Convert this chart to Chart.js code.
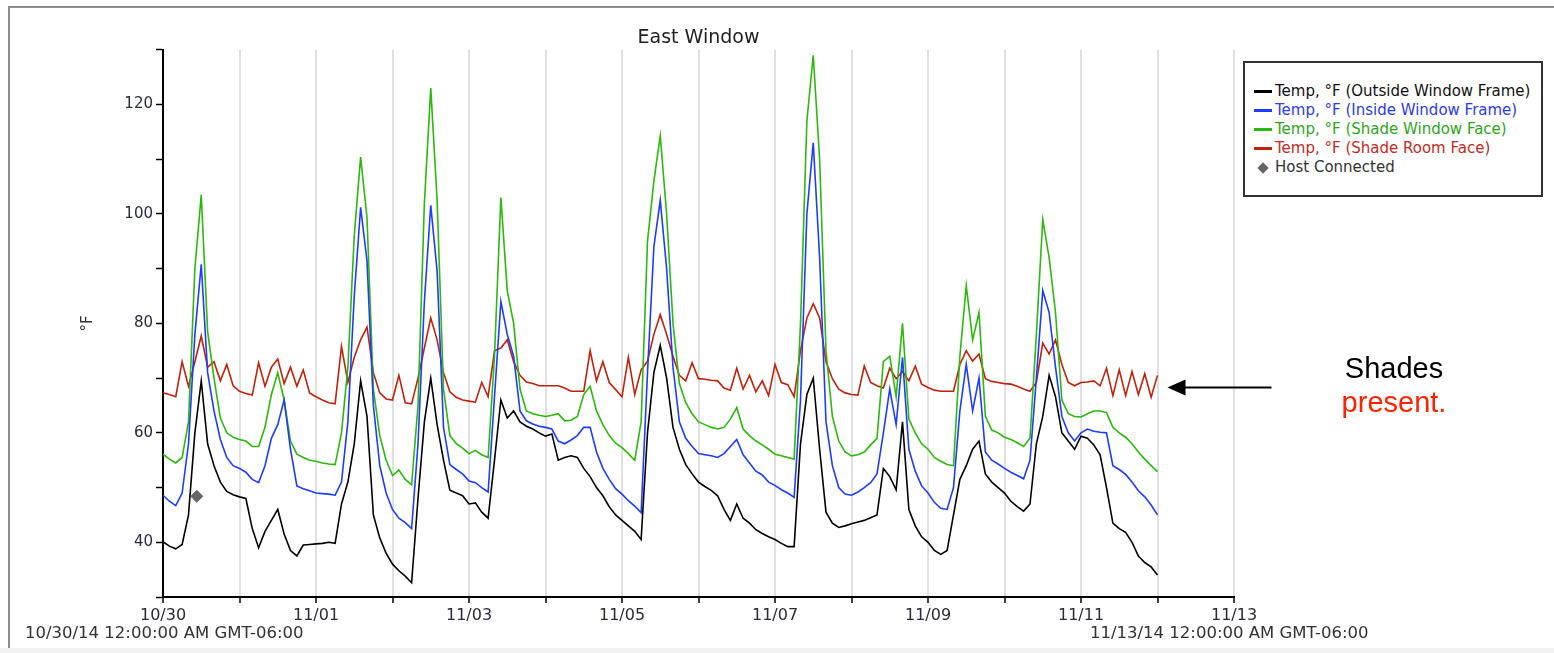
<!DOCTYPE html>
<html>
<head>
<meta charset="utf-8">
<title>East Window</title>
<script src="https://cdn.jsdelivr.net/npm/chart.js@4.4.1/dist/chart.umd.min.js"></script>
<style>
  html, body { margin: 0; padding: 0; background: #fff; }
  #wrap { position: relative; width: 1554px; height: 653px; overflow: hidden; font-family: "DejaVu Sans", sans-serif; }
  #frame { position: absolute; left: 8px; top: 6px; width: 1546px; height: 642px; border-top: 2px solid #8c8c8c; border-left: 2px solid #8c8c8c; box-sizing: border-box; }
  #strip { position: absolute; left: 0; top: 648px; width: 1554px; height: 5px; background: #f2f2f2; }
  canvas { position: absolute; left: 0; top: 0; }
  #legend { position: absolute; left: 1243px; top: 61px; width: 300px; height: 136px; border: 2px solid #333; box-sizing: border-box; padding: 19px 0 0 9px; font-size: 15px; line-height: 19px; background: #fff; }
  #legend .item { white-space: nowrap; height: 19px; }
  #legend .sw { display: inline-block; width: 18px; height: 3px; vertical-align: middle; margin-right: 3px; }
  #legend .dia { display: inline-block; width: 8px; height: 8px; transform: rotate(45deg); margin: 0 8px 0 5px; vertical-align: middle; }
  .stamp { position: absolute; font-size: 16.5px; color: #333; line-height: 20px; white-space: nowrap; }
  .note { position: absolute; left: 1294px; width: 200px; text-align: center; font-family: "Liberation Sans", Arial, sans-serif; font-size: 29px; line-height: 29px; }
</style>
</head>
<body>
<div id="wrap">
  <div id="frame"></div>
  <div id="strip"></div>
  <canvas id="chart" width="1554" height="653"></canvas>
  <div id="legend"></div>
  <div class="stamp" style="left:25px; top:623px;">10/30/14 12:00:00 AM GMT-06:00</div>
  <div class="stamp" style="left:1090px; top:623px;">11/13/14 12:00:00 AM GMT-06:00</div>
  <div class="note" style="top:354px; color:#000;">Shades</div>
  <div class="note" style="top:388px; color:#ff2200;">present.</div>
</div>
<script>
// day labels for the x axis (one tick per day, label every other day)
const dayLabels = ['10/30', '10/31', '11/01', '11/02', '11/03', '11/04', '11/05', '11/06',
    '11/07', '11/08', '11/09', '11/10', '11/11', '11/12', '11/13'];

// readings every 2 hours from 10/30 00:00 to 11/12 00:00 (one row per day)
const outsideFrame = [
    40.1, 39.3, 38.8, 39.6, 45, 60, 69.5, 58, 54, 51, 49.3, 48.7,
    48.3, 48, 42.5, 39, 42, 44, 46, 41.5, 38.5, 37.5, 39.5, 39.6,
    39.7, 39.8, 40, 39.8, 47, 51, 58, 69.5, 63, 45, 40.8, 38,
    36, 34.8, 33.8, 32.6, 48, 62, 70, 61.5, 55, 49.5, 49, 48.5,
    47, 47.2, 45.5, 44.4, 55, 66, 62.7, 64, 62, 61.2, 60.7, 60,
    59.4, 59.8, 55, 55.5, 55.8, 55.5, 53.5, 52, 50, 48.5, 46.5, 45,
    44, 43, 42, 40.5, 60, 71, 76, 70, 61, 57, 54.2, 52.5,
    51, 50.2, 49.5, 48.5, 46, 44, 47, 44.4, 43.5, 42.3, 41.6, 41,
    40.5, 39.8, 39.2, 39.2, 58, 67, 70, 57, 45.5, 43.5, 42.7, 43,
    43.4, 43.7, 44, 44.5, 45, 53.5, 52, 49.6, 62, 46, 43, 41,
    40, 38.5, 37.8, 38.5, 45, 51.5, 54, 57, 58.5, 52.5, 51, 50,
    49, 47.5, 46.5, 45.7, 47, 58, 63, 70.5, 66.6, 60, 58.5, 57,
    59.4, 59, 57.8, 56, 50, 43.5, 42.5, 41.8, 40, 37.5, 36.3, 35.5,
    34
];
const insideFrame = [
    48.6, 47.5, 46.7, 49, 58, 78, 90.8, 71, 64, 58.8, 55.5, 54,
    53.5, 52.8, 51.5, 50.9, 54, 59, 61.5, 66, 57, 50.3, 49.8, 49.4,
    49, 48.9, 48.8, 48.6, 51, 62, 85, 101.2, 91.4, 65, 54, 49,
    46, 44.4, 43.6, 42.5, 58, 84, 101.6, 89.5, 61, 54.2, 53.3, 52.5,
    51.2, 50.9, 50, 49.2, 66.6, 84, 78, 74, 64, 62.2, 61.6, 61.2,
    61, 60.7, 58.5, 58, 58.7, 59.5, 61, 61, 56.5, 53.5, 51.5, 49.8,
    48.8, 47.6, 46.6, 45.4, 71, 94, 102.5, 90, 72, 62, 59, 57.5,
    56.2, 56, 55.8, 55.5, 56.2, 57.5, 58.8, 56, 54.5, 53, 52.3, 51,
    50.4, 49.6, 49, 48.2, 66, 100, 113, 92, 62, 54, 50, 48.8,
    48.6, 49.2, 50, 50.9, 52.5, 60, 68, 61.5, 73.8, 57, 53, 50.3,
    49, 47.3, 46.2, 46, 50, 64, 72.5, 64, 70, 56.5, 55, 54.3,
    53.5, 52.8, 52.2, 51.6, 55, 70, 86, 82, 72, 63, 60, 58.5,
    60, 60.7, 60.3, 60.1, 60, 54, 53.3, 52.4, 51, 49.4, 48.3, 46.8,
    45
];
const shadeWindow = [
    56.1, 55.2, 54.5, 55.5, 62, 90, 103.5, 78.5, 70, 62.7, 60, 59.2,
    58.8, 58.5, 57.5, 57.5, 61, 67, 71, 66, 58.5, 56.1, 55.5, 55,
    54.8, 54.5, 54.3, 54.2, 60, 72, 96, 110.4, 99.3, 68, 59.5, 55,
    52.2, 53.2, 51.5, 50.5, 65, 102, 123, 102.5, 68, 59.5, 58, 57.2,
    56.2, 56.8, 56, 55.5, 74, 103, 86, 80, 68, 64, 63.5, 63.2,
    63, 63.2, 63.5, 62.2, 62.3, 63, 67, 68.5, 64, 61.5, 59.5, 58.1,
    57.3, 56.2, 55, 62, 95, 106, 114.3, 100, 80, 69, 65.5, 63.5,
    62, 61.5, 61, 60.7, 61, 62.5, 64.6, 60.7, 59.5, 58.5, 57.8, 57,
    56.1, 55.8, 55.5, 55.2, 80, 117, 129, 110, 75, 63, 58.5, 56.5,
    55.8, 56, 56.5, 57.8, 59, 73, 74, 66.6, 80, 62.5, 60, 58,
    57, 55.5, 54.8, 54.2, 54, 74, 86.9, 77, 82, 63, 60.5, 60,
    59.2, 58.8, 58.2, 57.5, 59, 78, 99, 92, 82, 66, 63.5, 63,
    62.9, 63.5, 64, 64, 63.7, 61, 60, 59.2, 58, 56.5, 55.2, 54,
    52.9
];
const shadeRoom = [
    67.3, 67, 66.6, 73, 68.5, 73, 77.7, 72, 73, 69.5, 72.5, 68.6,
    67.6, 67.2, 66.9, 72.8, 68.5, 72, 73.5, 69, 72, 68.5, 71.5, 67.3,
    66.6, 66, 65.5, 65.3, 75.8, 69.2, 73.8, 77, 79.3, 71, 67.3, 66.2,
    66, 70.5, 65.5, 65.3, 70, 75.5, 81, 77, 71, 67.5, 66.5, 66,
    65.8, 65.6, 69.2, 66.6, 75, 75.5, 77, 73, 70.5, 69.3, 69, 68.6,
    68.6, 68.6, 68.6, 68.2, 67.6, 67.6, 67.6, 75, 69.5, 73, 69.2, 67.9,
    66.6, 73.8, 67, 71.5, 73.1, 78, 81.6, 78, 74, 70.5, 69.5, 72.8,
    69.9, 69.8, 69.6, 69.5, 68.2, 67.8, 71.8, 68, 70.5, 67.5, 69.5, 66.8,
    72.5, 69.2, 68.8, 66.6, 75, 81, 83.6, 81, 73, 69.9, 68, 67.3,
    67, 66.9, 72.2, 69.2, 68.6, 68.2, 71.8, 69.9, 71.2, 69.5, 72.2, 68.9,
    68.3, 67.8, 67.6, 67.6, 67.6, 72.5, 75, 73.1, 74.4, 69.9, 69.4, 69.2,
    69, 68.9, 68.5, 68, 67.6, 69.2, 76.4, 74.4, 77, 72.5, 69.2, 68.6,
    69.2, 69.3, 69.5, 68.6, 71.8, 66.8, 71.5, 66.8, 71.2, 67, 70.8, 66.5,
    70.5
];
// host connection event (hours after 10/30 00:00, °F)
const hostHours = [10.6];
const hostValues = [48.4];

const hours = outsideFrame.map((_, i) => i * 2);

function toPoints(values) {
    return values.map((v, i) => ({x: hours[i], y: v}));
}

const arrowPlugin = {
    id: 'shadeArrow',
    afterDraw(chart) {
        const ctx = chart.ctx;
        const tipX = chart.scales.x.getPixelForValue(312) + 10;
        const yy = chart.scales.y.getPixelForValue(68.3);
        ctx.save();
        ctx.strokeStyle = '#000';
        ctx.lineWidth = 2;
        ctx.beginPath();
        ctx.moveTo(tipX + 16, yy);
        ctx.lineTo(tipX + 104, yy);
        ctx.stroke();
        ctx.fillStyle = '#000';
        ctx.beginPath();
        ctx.moveTo(tipX, yy);
        ctx.lineTo(tipX + 18, yy - 8);
        ctx.lineTo(tipX + 18, yy + 8);
        ctx.closePath();
        ctx.fill();
        ctx.restore();
    }
};

Chart.defaults.font.family = '"DejaVu Sans", sans-serif';

const ctx = document.getElementById('chart').getContext('2d');
const eastChart = new Chart(ctx, {
    type: 'line',
    data: {
        datasets: [
            {label: 'Temp, °F (Outside Window Frame)', data: toPoints(outsideFrame), borderColor: '#000000', textColor: '#111111', borderWidth: 1.6, pointRadius: 0},
            {label: 'Temp, °F (Inside Window Frame)', data: toPoints(insideFrame), borderColor: '#1e3cff', textColor: '#2a3cf0', borderWidth: 1.6, pointRadius: 0},
            {label: 'Temp, °F (Shade Window Face)', data: toPoints(shadeWindow), borderColor: '#2cb80c', textColor: '#2fa51c', borderWidth: 1.6, pointRadius: 0},
            {label: 'Temp, °F (Shade Room Face)', data: toPoints(shadeRoom), borderColor: '#c0220c', textColor: '#c42a22', borderWidth: 1.6, pointRadius: 0},
            {label: 'Host Connected', data: hostHours.map((h, i) => ({x: h, y: hostValues[i]})), showLine: false,
                pointStyle: 'rectRot', pointRadius: 6, backgroundColor: '#666666', borderColor: '#666666', textColor: '#333333', marker: true}
        ]
    },
    options: {
        responsive: false,
        animation: false,
        layout: {padding: {left: 0, top: 0, right: 320, bottom: 0}},
        plugins: {
            legend: {display: false},
            tooltip: {enabled: false},
            title: {
                display: true,
                text: 'East Window',
                fullSize: false,
                color: '#222',
                font: {size: 19, weight: 'normal'},
                padding: {top: 27, bottom: 0}
            }
        },
        scales: {
            x: {
                type: 'linear',
                min: 0,
                max: 336,
                afterFit(scale) { scale.height = 56; },
                ticks: {
                    stepSize: 24,
                    autoSkip: false,
                    maxRotation: 0,
                    color: '#2b2b38',
                    font: {size: 16},
                    callback: (v) => (v / 24) % 2 === 0 ? dayLabels[v / 24] : ''
                },
                grid: {color: '#e0e0e0', lineWidth: 2, tickColor: '#000', tickLength: 6, tickWidth: 1.5},
                border: {color: '#000', width: 2}
            },
            y: {
                min: 30,
                max: 130,
                afterFit(scale) { scale.width = 163; },
                ticks: {
                    stepSize: 10,
                    color: '#2b2b44',
                    font: {size: 15},
                    callback: (v) => (v % 20 === 0 && v >= 40) ? v : ''
                },
                grid: {drawOnChartArea: false, tickColor: '#000', tickLength: 7, tickWidth: 1.5},
                border: {color: '#000', width: 2},
                title: {display: true, text: '°F', color: '#333', font: {size: 15}, padding: {top: 79, bottom: 0}}
            }
        }
    },
    plugins: [arrowPlugin]
});

// legend box built from the chart's datasets
const legendBox = document.getElementById('legend');
for (const ds of eastChart.data.datasets) {
    const row = document.createElement('div');
    row.className = 'item';
    const mark = document.createElement('span');
    if (ds.marker) {
        mark.className = 'dia';
        mark.style.background = ds.backgroundColor;
    } else {
        mark.className = 'sw';
        mark.style.background = ds.borderColor;
    }
    const txt = document.createElement('span');
    txt.textContent = ds.label;
    txt.style.color = ds.textColor;
    row.appendChild(mark);
    row.appendChild(txt);
    legendBox.appendChild(row);
}
</script>
</body>
</html>
